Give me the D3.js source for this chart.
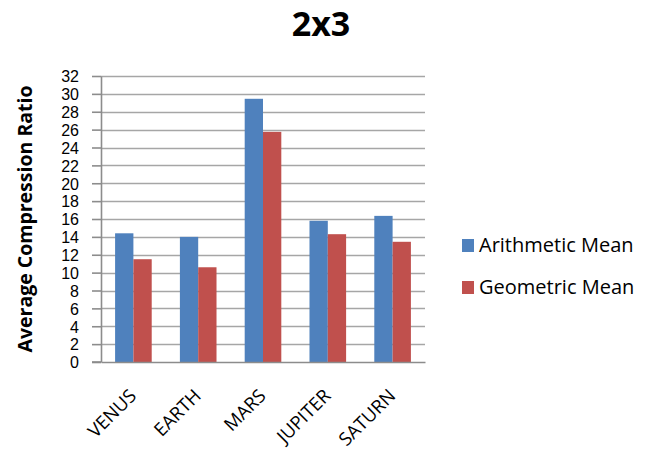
<!DOCTYPE html>
<html>
<head>
<meta charset="utf-8">
<script src="https://cdn.jsdelivr.net/npm/d3@7"></script>
<style>
  html, body { margin: 0; padding: 0; background: #fff; }
  svg { display: block; font-family: "Open Sans", "Liberation Sans", sans-serif; }
</style>
</head>
<body>
<svg id="chart" width="648" height="452"></svg>
<script>
// Chart data
const categories = ["VENUS", "EARTH", "MARS", "JUPITER", "SATURN"];
const seriesNames = ["Arithmetic Mean", "Geometric Mean"];
const arithmeticMean = [14.4, 14.0, 29.45, 15.8, 16.35];
const geometricMean = [11.5, 10.6, 25.75, 14.3, 13.45];
const yTicks = [0, 2, 4, 6, 8, 10, 12, 14, 16, 18, 20, 22, 24, 26, 28, 30, 32];
const colors = ["#4F81BD", "#C0504D"];
const titleText = "2x3";
const yLabel = "Average Compression Ratio";

const svg = d3.select("#chart");
const plot = { left: 101, right: 425, top: 76, bottom: 362 };

const x = d3.scaleBand().domain(categories).range([plot.left, plot.right]).paddingInner(0).paddingOuter(0);
const groupWidth = x.bandwidth() * 0.565;
const xs = d3.scaleBand().domain(seriesNames).range([0, groupWidth]);
const y = d3.scaleLinear().domain([0, 32]).range([plot.bottom, plot.top]);

// Title
svg.append("text")
  .attr("x", 321).attr("y", 36)
  .attr("text-anchor", "middle")
  .style("font-size", "34px").style("font-weight", "bold")
  .text(titleText);

// Horizontal gridlines
svg.append("g").selectAll("line").data(yTicks.filter(d => d > 0)).join("line")
  .attr("x1", plot.left).attr("x2", plot.right)
  .attr("y1", d => Math.round(y(d)) + 0.5).attr("y2", d => Math.round(y(d)) + 0.5)
  .attr("stroke", "#a6a6a6").attr("stroke-width", 1.6);

// Y axis with tick labels
const yAxis = d3.axisLeft(y).tickValues(yTicks).tickSize(9).tickPadding(13).tickSizeOuter(0);
const gy = svg.append("g").attr("transform", `translate(${plot.left},0)`).call(yAxis);
gy.select(".domain").attr("stroke", "#8c8c8c").attr("stroke-width", 1.6);
gy.selectAll(".tick line").attr("stroke", "#8c8c8c").attr("stroke-width", 1.6);
gy.selectAll(".tick text")
  .style("font-size", "16px").style("font-family", "'Liberation Sans', sans-serif")
  .attr("fill", "#000").attr("dy", "0.36em");

// Bars
const seriesData = [arithmeticMean, geometricMean];
const groups = svg.append("g").selectAll("g").data(categories).join("g")
  .attr("transform", d => `translate(${x(d) + (x.bandwidth() - groupWidth) / 2},0)`);
groups.selectAll("rect")
  .data((d, i) => seriesNames.map((s, k) => ({ s, v: seriesData[k][i], k })))
  .join("rect")
  .attr("x", d => xs(d.s))
  .attr("width", xs.bandwidth())
  .attr("y", d => y(d.v))
  .attr("height", d => y(0) - y(d.v))
  .attr("fill", d => colors[d.k]);

// Bottom axis with rotated category labels
const xAxis = d3.axisBottom(x).tickSize(0).tickPadding(0);
const gx = svg.append("g").attr("transform", `translate(0,${plot.bottom})`).call(xAxis);
gx.select(".domain").attr("stroke", "#8c8c8c").attr("stroke-width", 1.6);
gx.selectAll(".tick text")
  .style("font-size", "18.5px").style("font-family", "'Open Sans', sans-serif")
  .attr("fill", "#000")
  .attr("text-anchor", "end")
  .attr("dy", 0)
  .attr("transform", "translate(4,35) rotate(-45)");
// Extend the baseline left to meet the zero tick
svg.append("line")
  .attr("x1", plot.left - 9).attr("x2", plot.left)
  .attr("y1", plot.bottom).attr("y2", plot.bottom)
  .attr("stroke", "#8c8c8c").attr("stroke-width", 1.6);

// Y axis title
svg.append("text")
  .attr("transform", `translate(32,${(plot.top + plot.bottom) / 2}) rotate(-90)`)
  .attr("text-anchor", "middle")
  .style("font-size", "19.5px").style("font-weight", "bold")
  .text(yLabel);

// Legend
const legend = svg.append("g").selectAll("g").data(seriesNames).join("g")
  .attr("transform", (d, i) => `translate(462,${239 + i * 42})`);
legend.append("rect").attr("width", 12).attr("height", 13).attr("fill", (d, i) => colors[i]);
legend.append("text")
  .attr("x", 17).attr("y", 13)
  .style("font-size", "20px")
  .text(d => d);
</script>
</body>
</html>
